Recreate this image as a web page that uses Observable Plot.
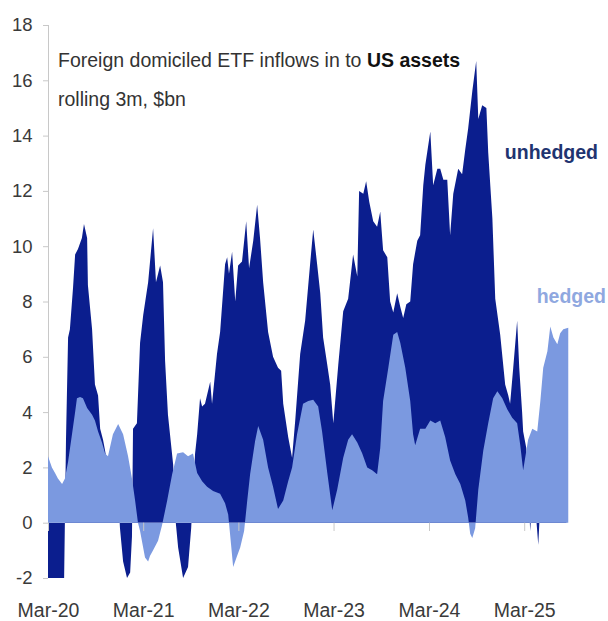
<!DOCTYPE html>
<html>
<head>
<meta charset="utf-8">
<script src="https://cdn.jsdelivr.net/npm/d3@7"></script>
<script src="https://cdn.jsdelivr.net/npm/@observablehq/plot@0.6"></script>
<style>
  html, body { margin: 0; padding: 0; background: #ffffff; }
  #chart { width: 608px; height: 621px; }
</style>
</head>
<body>
<div id="chart"></div>
<script>
// ---- Data ----
const titleMain = "Foreign domiciled ETF inflows in to ";
const titleBold = "US assets";
const subtitle = "rolling 3m, $bn";
const seriesNames = ["unhedged", "hedged"];

const yTicks = [-2, 0, 2, 4, 6, 8, 10, 12, 14, 16, 18];
const xTickDates = ["2020-03-01", "2021-03-01", "2022-03-01", "2023-03-01", "2024-03-01", "2025-03-01"];

const unhedgedDates = [
  "2020-03-01","2020-03-28","2020-04-24","2020-05-01","2020-05-09","2020-05-17","2020-05-24","2020-06-05",
  "2020-06-13","2020-06-24","2020-07-09","2020-07-17","2020-07-29","2020-08-01","2020-08-17","2020-08-28",
  "2020-09-09","2020-09-17","2020-09-28","2020-10-06","2020-10-13","2020-11-02","2020-11-25","2020-12-02",
  "2020-12-14","2020-12-29","2021-01-10","2021-01-17","2021-01-21","2021-02-05","2021-02-17","2021-03-01",
  "2021-03-20","2021-04-08","2021-04-19","2021-05-05","2021-05-16","2021-05-24","2021-06-04","2021-06-24",
  "2021-07-01","2021-07-13","2021-08-01","2021-08-20","2021-09-01","2021-09-16","2021-09-24","2021-10-05",
  "2021-10-13","2021-10-24","2021-11-13","2021-11-20","2021-12-09","2021-12-21","2022-01-09","2022-01-17",
  "2022-01-24","2022-02-05","2022-02-17","2022-02-28","2022-03-15","2022-03-31","2022-04-11","2022-04-27",
  "2022-05-12","2022-05-23","2022-06-04","2022-06-23","2022-07-12","2022-07-31","2022-08-12","2022-08-20",
  "2022-09-08","2022-09-23","2022-10-05","2022-10-24","2022-11-12","2022-12-01","2022-12-13","2022-12-28",
  "2023-01-09","2023-01-20","2023-02-05","2023-02-16","2023-02-28","2023-03-19","2023-04-07","2023-04-26",
  "2023-05-15","2023-05-31","2023-06-07","2023-06-23","2023-07-04","2023-07-16","2023-07-31","2023-08-15",
  "2023-08-27","2023-09-07","2023-09-23","2023-10-04","2023-10-16","2023-10-31","2023-11-12","2023-11-23",
  "2023-12-05","2023-12-20","2023-12-31","2024-01-16","2024-01-27","2024-02-08","2024-02-16","2024-03-06",
  "2024-03-17","2024-04-02","2024-04-13","2024-04-25","2024-05-10","2024-05-21","2024-06-02","2024-06-21",
  "2024-07-06","2024-07-18","2024-07-29","2024-08-14","2024-08-29","2024-09-06","2024-09-21","2024-10-07",
  "2024-10-14","2024-10-30","2024-11-10","2024-11-29","2024-12-18","2024-12-30","2025-01-06","2025-01-18",
  "2025-02-02","2025-02-10","2025-02-21","2025-02-25","2025-03-09","2025-03-16","2025-03-24","2025-04-05",
  "2025-04-24","2025-05-06","2025-06-09","2025-07-17","2025-08-10"
];
const unhedgedValues = [
  -2.6,-2.6,-2.6,-2.6,3.0,6.7,7.0,8.5,
  9.7,9.9,10.3,10.8,10.3,8.6,7.0,5.0,
  4.6,3.4,3.0,2.6,2.2,1.6,1.0,-0.2,
  -1.4,-2.0,-1.8,-0.5,3.4,3.6,6.5,7.5,
  8.7,10.65,8.7,9.3,8.7,5.85,3.9,2.1,
  0.3,-0.9,-2.0,-1.6,-0.2,2.5,3.2,4.5,
  4.2,4.3,5.1,4.3,6.1,6.9,9.35,9.6,
  9.0,9.8,8.0,9.3,9.45,10.9,9.2,10.2,
  11.5,10.3,8.7,6.9,6.0,5.6,5.5,4.3,
  3.1,2.35,3.7,6.1,7.3,9.35,10.6,9.35,
  8.3,6.7,5.7,5.0,3.6,5.7,7.65,8.1,
  9.7,8.9,12.0,11.9,12.35,11.6,10.9,10.7,
  11.25,9.85,9.6,8.0,7.6,8.3,7.8,7.4,
  7.9,8.0,9.35,10.2,10.4,12.2,12.95,14.15,
  12.2,12.8,12.8,12.4,12.4,10.4,11.9,12.8,
  12.6,13.5,14.25,15.6,16.7,14.6,15.1,15.0,
  13.4,11.0,8.1,6.8,5.0,4.6,4.3,5.6,
  7.3,5.6,4.0,3.3,2.7,1.5,-0.3,1.5,
  -0.8,1.5,2.5,3.0,3.0
];

const hedgedDates = [
  "2020-03-01","2020-03-16","2020-03-28","2020-04-08","2020-04-24","2020-05-05","2020-05-17","2020-06-01",
  "2020-06-13","2020-06-20","2020-07-02","2020-07-13","2020-07-29","2020-08-17","2020-08-28","2020-09-09",
  "2020-09-24","2020-10-06","2020-10-17","2020-11-05","2020-11-25","2020-12-14","2021-01-02","2021-01-17",
  "2021-01-29","2021-02-09","2021-02-17","2021-03-08","2021-03-20","2021-03-27","2021-04-08","2021-04-27",
  "2021-05-12","2021-06-01","2021-06-20","2021-07-09","2021-08-01","2021-08-20","2021-09-08","2021-09-24",
  "2021-10-13","2021-11-01","2021-11-24","2021-12-21","2022-01-09","2022-01-21","2022-02-01","2022-02-09",
  "2022-02-24","2022-03-08","2022-03-23","2022-04-04","2022-04-15","2022-05-04","2022-05-16","2022-06-04",
  "2022-06-23","2022-07-12","2022-07-31","2022-08-20","2022-09-08","2022-09-23","2022-10-12","2022-11-04",
  "2022-11-24","2022-12-13","2023-01-01","2023-01-16","2023-02-05","2023-02-24","2023-03-15","2023-04-07",
  "2023-04-26","2023-05-11","2023-05-31","2023-06-19","2023-07-08","2023-07-27","2023-08-15","2023-08-27",
  "2023-09-07","2023-09-27","2023-10-16","2023-10-31","2023-11-12","2023-12-01","2023-12-20","2023-12-31",
  "2024-01-08","2024-01-27","2024-02-16","2024-03-06","2024-03-25","2024-04-13","2024-05-02","2024-05-21",
  "2024-06-10","2024-06-29","2024-07-18","2024-07-29","2024-08-06","2024-08-14","2024-08-25","2024-09-06",
  "2024-09-25","2024-10-14","2024-11-02","2024-11-18","2024-12-07","2024-12-26","2025-01-14","2025-02-02",
  "2025-02-14","2025-02-25","2025-03-16","2025-04-01","2025-04-20","2025-05-02","2025-05-13","2025-05-29",
  "2025-06-09","2025-06-21","2025-07-06","2025-07-17","2025-07-29","2025-08-17"
];
const hedgedValues = [
  2.4,2.0,1.8,1.6,1.4,1.6,2.2,3.2,
  4.0,4.5,4.55,4.5,4.15,3.9,3.7,3.3,
  2.9,2.5,2.4,3.2,3.57,3.2,2.4,1.6,
  0.8,0.0,-0.3,-1.26,-1.4,-1.2,-1.0,-0.65,
  -0.1,0.8,1.75,2.5,2.55,2.4,2.5,1.8,
  1.5,1.3,1.15,1.05,0.7,0.3,-0.8,-1.6,
  -1.2,-0.9,-0.3,0.8,1.75,2.95,3.5,3.0,
  2.0,1.3,0.5,0.8,1.5,2.0,3.2,4.3,
  4.4,4.45,4.2,3.3,1.8,0.45,1.2,2.35,
  3.0,3.2,2.9,2.5,2.0,1.9,1.75,2.7,
  4.4,5.6,6.8,6.9,6.5,5.6,4.4,3.2,
  2.8,3.4,3.4,3.7,3.6,3.7,3.1,2.25,
  1.75,1.4,0.8,0.2,-0.4,-0.55,-0.2,1.2,
  2.6,3.6,4.5,4.75,4.5,4.1,3.8,3.6,
  2.8,1.9,3.0,3.4,3.3,4.4,5.6,6.2,
  7.1,6.7,6.45,6.85,7.0,7.05
];

// series label anchors (data coordinates)
const labelDates = ["2024-12-15", "2025-04-16"];
const labelValues = [13.4, 8.2];

// ---- Build tables ----
const unhedged = unhedgedDates.map((d, i) => ({date: new Date(d), value: unhedgedValues[i]}));
const hedged = hedgedDates.map((d, i) => ({date: new Date(d), value: hedgedValues[i]}));
const labels = seriesNames.map((n, i) => ({name: n, date: new Date(labelDates[i]), value: labelValues[i]}));
const ticksX = xTickDates.map(d => new Date(d));

const darkBlue = "#0B1E8E";
const lightBlue = "#7B99E0";
const font = "'Liberation Sans', Arial, sans-serif";

const chart = Plot.plot({
  width: 608,
  height: 621,
  marginLeft: 48,
  marginRight: 28,
  marginTop: 25,
  marginBottom: 43,
  style: {fontFamily: font, background: "#ffffff", overflow: "visible"},
  x: {type: "utc", domain: [new Date("2020-03-01"), new Date("2025-10-01")]},
  y: {domain: [-2, 18]},
  marks: [
    Plot.ruleX([ticksX[0]], {y1: -2, y2: 18, stroke: "#c8c8c8", strokeWidth: 1}),
    Plot.axisY({ticks: yTicks, tickFormat: d => String(d), tickSize: 5, tickPadding: 11,
      stroke: "#c8c8c8", fill: "#3a3a3a", fontSize: 18.5, label: null}),
    Plot.areaY(unhedged, {x: "date", y: "value", fill: darkBlue, clip: true}),
    Plot.areaY(hedged, {x: "date", y: "value", fill: lightBlue, clip: true}),
    Plot.ruleX(ticksX, {y1: 0, y2: -0.3, stroke: "#c8c8c8"}),
    Plot.axisX({ticks: ticksX, tickFormat: d3.utcFormat("%b-%y"), tickSize: 0, tickPadding: 25,
      fill: "#3a3a3a", fontSize: 19.5, label: null}),
    Plot.text(labels, {x: "date", y: "value", text: "name", textAnchor: "start",
      fontSize: 19.5, fontWeight: "bold",
      fill: (d) => d.name === "unhedged" ? "#1F3470" : "#8FA8E0"})
  ]
});

document.getElementById("chart").appendChild(chart);

// Title + subtitle inside the plot area, as real text
const svg = d3.select(chart);
const t1 = svg.append("text")
  .attr("x", 58).attr("y", 67)
  .attr("text-anchor", "start")
  .attr("font-family", font)
  .attr("font-size", 19.5)
  .attr("fill", "#333333");
t1.append("tspan").text(titleMain);
t1.append("tspan").attr("font-weight", "bold").attr("fill", "#111111").text(titleBold);
svg.append("text")
  .attr("x", 58).attr("y", 106)
  .attr("text-anchor", "start")
  .attr("font-family", font)
  .attr("font-size", 19.5)
  .attr("fill", "#333333")
  .text(subtitle);
</script>
</body>
</html>
